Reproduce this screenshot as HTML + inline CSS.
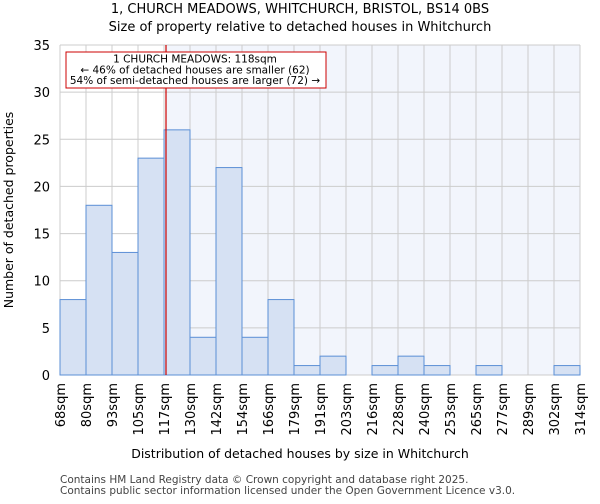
<!DOCTYPE html>
<html><head><meta charset="utf-8"><style>
body{margin:0;background:#fff;font-family:"DejaVu Sans","Liberation Sans",sans-serif}
svg text{font-family:"DejaVu Sans","Liberation Sans",sans-serif}
</style></head><body>
<svg id="chart" width="600" height="500" xmlns="http://www.w3.org/2000/svg">
<text x="300" y="13" text-anchor="middle" font-size="13">1, CHURCH MEADOWS, WHITCHURCH, BRISTOL, BS14 0BS</text>
<text x="300" y="31" text-anchor="middle" font-size="13">Size of property relative to detached houses in Whitchurch</text>
<g id="plot"></g>
<text x="300" y="458" text-anchor="middle" font-size="12.5">Distribution of detached houses by size in Whitchurch</text>
<text transform="translate(13,210) rotate(-90)" text-anchor="middle" font-size="12.5">Number of detached properties</text>
<text x="60" y="483" font-size="10.5" fill="#444">Contains HM Land Registry data © Crown copyright and database right 2025.</text>
<text x="60" y="494" font-size="10.5" fill="#444">Contains public sector information licensed under the Open Government Licence v3.0.</text>
</svg>
<script>
const binLabels=["68sqm","80sqm","93sqm","105sqm","117sqm","130sqm","142sqm","154sqm","166sqm","179sqm","191sqm","203sqm","216sqm","228sqm","240sqm","253sqm","265sqm","277sqm","289sqm","302sqm","314sqm"];
const binEdges=[68,80,93,105,117,130,142,154,166,179,191,203,216,228,240,253,265,277,289,302,314];
const counts=[8,18,13,23,26,4,22,4,8,1,2,0,1,2,1,0,1,0,0,1];
const yTicks=[0,5,10,15,20,25,30,35];
const markerValue=118;
const NS="http://www.w3.org/2000/svg";
const L=60,R=580,T=45,B=375,yMax=35,n=counts.length;
const xi=i=>L+i*(R-L)/n;
const xv=v=>{for(let i=0;i<binEdges.length-1;i++){if(v<=binEdges[i+1])return xi(i)+(v-binEdges[i])/(binEdges[i+1]-binEdges[i])*(xi(i+1)-xi(i));}return R;};
const y=v=>B-v/yMax*(B-T);
const g=document.getElementById('plot');
function mk(t,a){const e=document.createElementNS(NS,t);for(const k in a)e.setAttribute(k,a[k]);g.appendChild(e);return e;}
const mx=xv(markerValue);
let e=mk('rect',{x:mx,y:T,width:R-mx,height:B-T,fill:'#f2f5fc'});


for(let i=0;i<=n;i++){e=mk('line',{x1:xi(i),x2:xi(i),y1:T,y2:B,stroke:'#cccccc','stroke-width':1});

}
yTicks.forEach(t=>{e=mk('line',{x1:L,x2:R,y1:y(t),y2:y(t),stroke:'#cccccc','stroke-width':1});


const tx=mk('text',{x:L-10,y:y(t)+5,'text-anchor':'end','font-size':13});tx.textContent=t;

});
counts.forEach((c,i)=>{if(c<=0)return;e=mk('rect',{x:xi(i),y:y(c),width:xi(i+1)-xi(i),height:B-y(c),fill:'#d6e1f3',stroke:'#5b8fd6','stroke-width':1});

});
binLabels.forEach((lb,i)=>{const tx=mk('text',{transform:`translate(${xi(i)+5},${B+8}) rotate(-90)`,'text-anchor':'end','font-size':13});tx.textContent=lb;

});
e=mk('line',{x1:mx,x2:mx,y1:T,y2:B,stroke:'#cc0000','stroke-width':1.2});


e=mk('rect',{x:66,y:52,width:260,height:36,fill:'#fff',stroke:'#cc0000','stroke-width':1});


["1 CHURCH MEADOWS: 118sqm","← 46% of detached houses are smaller (62)","54% of semi-detached houses are larger (72) →"].forEach((s,k)=>{const tx=mk('text',{x:195,y:62.5+k*10.8,'text-anchor':'middle','font-size':10.5});tx.textContent=s;

});
</script>
</body></html>
